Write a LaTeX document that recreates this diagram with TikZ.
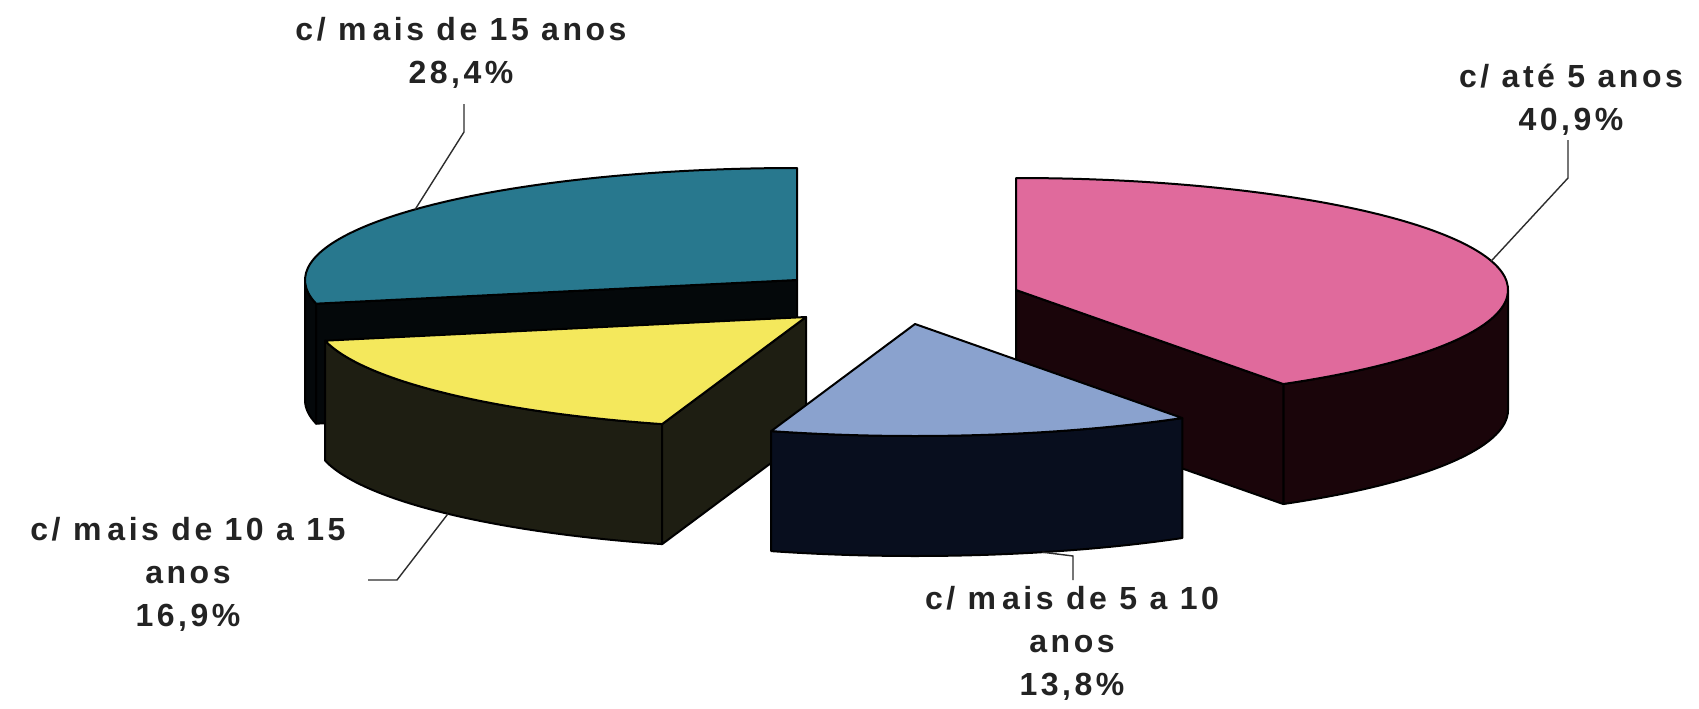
\documentclass[tikz,border=0pt]{standalone}
\usepackage{fontspec}
\setmainfont{Liberation Sans}
\newfontfamily\lblfont{Liberation Sans}[LetterSpace=11]
\definecolor{tealtop}{RGB}{40,120,142}
\definecolor{tealside}{RGB}{4,8,10}
\definecolor{pinktop}{RGB}{224,106,156}
\definecolor{pinkside}{RGB}{26,5,10}
\definecolor{yeltop}{RGB}{244,232,92}
\definecolor{yelside}{RGB}{30,30,18}
\definecolor{bluetop}{RGB}{138,162,206}
\definecolor{blueside}{RGB}{8,14,30}
\definecolor{lbltext}{RGB}{35,35,35}
\begin{document}
\begin{tikzpicture}[x=1pt,y=-1pt,
  face/.style={draw=black,line width=2pt,line join=round},
  leader/.style={draw={rgb,255:red,45;green,45;blue,45},line width=1.4pt},
  lbl/.style={align=center,inner sep=0pt,text=lbltext,
    font=\lblfont\bfseries\fontsize{32}{43}\selectfont},
  E/.style={x radius=492,y radius=112}]
\fill[white] (0,0) rectangle (1699,709);
\useasboundingbox (0,0) rectangle (1699,709);
% centres of the exploded slices
\coordinate (ct) at (797,280);  \coordinate (ctd) at (797,400);
\coordinate (cp) at (1016,290); \coordinate (cpd) at (1016,410);
\coordinate (cy) at (806,317);  \coordinate (cyd) at (806,437);
\coordinate (cb) at (915,324);  \coordinate (cbd) at (915,444);
\path (ct) ++(-192.2:492 and 112) coordinate (tA);
\path (ct) ++(-180:492 and 112) coordinate (tL);
\path (cp) ++(57.1:492 and 112) coordinate (pA);
\path (cy) ++(167.8:492 and 112) coordinate (yA);
\path (cy) ++(107:492 and 112) coordinate (yB);
\path (cb) ++(107:492 and 112) coordinate (bA);
% --- teal slice (mais de 15 anos)
\filldraw[face,fill=tealside] (tL) arc[start angle=-180,end angle=-192.2,E] -- ++(0,120) arc[start angle=-192.2,end angle=-180,E] -- cycle;
\filldraw[face,fill=tealside] (ct) -- (tA) -- ++(0,120) -- (ctd) -- cycle;
\filldraw[face,fill=tealtop] (ct) -- ++(0,-112) arc[start angle=-90,end angle=-192.2,E] -- cycle;
% --- pink slice (ate 5 anos)
\filldraw[face,fill=pinkside] (pA) arc[start angle=57.1,end angle=0,E] -- ++(0,120) arc[start angle=0,end angle=57.1,E] -- cycle;
\filldraw[face,fill=pinkside] (cp) -- (pA) -- ++(0,120) -- (cpd) -- cycle;
\filldraw[face,fill=pinktop] (cp) -- (pA) arc[start angle=57.1,end angle=-90,E] -- cycle;
% --- yellow slice (mais de 10 a 15 anos)
\filldraw[face,fill=yelside] (yA) arc[start angle=167.8,end angle=107,E] -- ++(0,120) arc[start angle=107,end angle=167.8,E] -- cycle;
\filldraw[face,fill=yelside] (cy) -- (yB) -- ++(0,120) -- (cyd) -- cycle;
\filldraw[face,fill=yeltop] (cy) -- (yA) arc[start angle=167.8,end angle=107,E] -- cycle;
% --- blue slice (mais de 5 a 10 anos)
\filldraw[face,fill=blueside] (bA) arc[start angle=107,end angle=57.1,E] -- ++(0,120) arc[start angle=57.1,end angle=107,E] -- cycle;
\filldraw[face,fill=bluetop] (cb) -- (bA) arc[start angle=107,end angle=57.1,E] -- cycle;
% --- labels
\node[lbl] (l1) at (461,53) {c/ m\kern6pt ais de 15 anos\\28,4\%};
\node[lbl] (l2) at (1571,100) {c/ até 5 anos\\40,9\%};
\node[lbl] (l3) at (188,574) {c/ m\kern6pt ais de 10 a 15\\anos\\16,9\%};
\node[lbl] (l4) at (1072,643) {c/ m\kern6pt ais de 5 a 10\\anos\\13,8\%};
% --- leader lines
\path (ct) ++(-140.9:492 and 112) coordinate (e1);
\path (cp) ++(-15:492 and 112) coordinate (e2);
\path (cyd) ++(136.7:492 and 112) coordinate (e3);
\path (cbd) ++(75:492 and 112) coordinate (e4);
\coordinate (s1) at (464,104); \coordinate (k1) at (464,132);
\coordinate (s2) at (1568,140); \coordinate (k2) at (1568,178);
\coordinate (s3) at (368,580); \coordinate (k3) at (397,580);
\coordinate (s4) at (1073,580); \coordinate (k4) at (1073,556);
\draw[leader] (s1) -- (k1) -- (e1);
\draw[leader] (s2) -- (k2) -- (e2);
\draw[leader] (s3) -- (k3) -- (e3);
\draw[leader] (s4) -- (k4) -- (e4);
\end{tikzpicture}
\end{document}
